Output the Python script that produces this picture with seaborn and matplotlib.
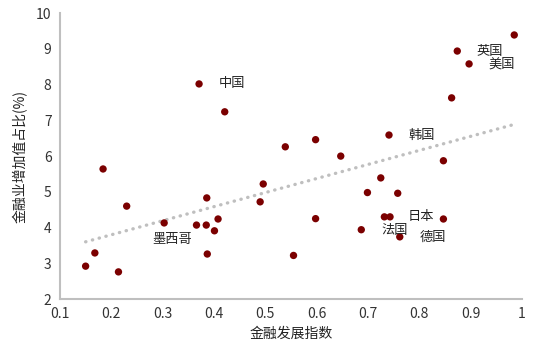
import numpy as np
import pandas as pd
import matplotlib
matplotlib.use("Agg")
import matplotlib.pyplot as plt
import seaborn as sns

# 金融发展指数 与 金融业增加值占比(%)
fin_index = [0.150, 0.168, 0.214, 0.230, 0.303, 0.366, 0.385, 0.386, 0.387, 0.401,
             0.408, 0.490, 0.496, 0.371, 0.421, 0.184, 0.985, 0.874, 0.897, 0.863,
             0.539, 0.598, 0.647, 0.741, 0.847, 0.725, 0.699, 0.758, 0.598, 0.732,
             0.743, 0.847, 0.687, 0.762, 0.555]
fin_share = [2.92, 3.29, 2.76, 4.60, 4.13, 4.07, 4.07, 4.83, 3.26, 3.91,
             4.24, 4.72, 5.22, 8.02, 7.24, 5.64, 9.39, 8.94, 8.58, 7.63,
             6.26, 6.46, 6.00, 6.59, 5.87, 5.39, 4.98, 4.96, 4.25, 4.30,
             4.30, 4.24, 3.94, 3.74, 3.22]

# 标注: 国家, 点序号, 偏移(pt), 对齐
label_names = ["中国", "英国", "美国", "韩国", "墨西哥", "日本", "法国", "德国"]
label_idx = [13, 17, 18, 23, 4, 31, 30, 33]
label_offsets = [(14, 0), (14, 0), (14, 0), (14, 0), (6, -12), (-7, 2), (3, -10), (14, 0)]
label_ha = ["left", "left", "left", "left", "center", "right", "center", "left"]

x_ticks = [0.1, 0.2, 0.3, 0.4, 0.5, 0.6, 0.7, 0.8, 0.9, 1.0]
x_tick_labels = ["0.1", "0.2", "0.3", "0.4", "0.5", "0.6", "0.7", "0.8", "0.9", "1"]
y_ticks = [2, 3, 4, 5, 6, 7, 8, 9, 10]

df = pd.DataFrame({"x": fin_index, "y": fin_share})

sns.set_style("white")
plt.rcParams["font.family"] = ["Noto Sans CJK SC", "DejaVu Sans"]

fig = plt.figure(figsize=(5.5, 3.56), dpi=100)
ax = fig.add_axes([0.109, 0.160, 0.840, 0.803])

# 趋势线
sns.regplot(data=df, x="x", y="y", ax=ax, ci=None, scatter=False,
            line_kws=dict(color="#BFBFBF", lw=2.4, linestyle=(0, (0.1, 2.0)),
                          dash_capstyle="round"))
sns.scatterplot(data=df, x="x", y="y", ax=ax, color="#7B0000", s=28,
                edgecolor="none", zorder=3)

for name, i, off, ha in zip(label_names, label_idx, label_offsets, label_ha):
    ax.annotate(name, (fin_index[i], fin_share[i]), xytext=off,
                textcoords="offset points", ha=ha, va="center",
                fontsize=9.5, color="#222222")

ax.set_xlim(0.1, 1.0)
ax.set_ylim(2, 10)
ax.set_xticks(x_ticks)
ax.set_xticklabels(x_tick_labels)
ax.set_yticks(y_ticks)
ax.tick_params(axis="both", length=0, labelsize=10, colors="#333333", pad=6)

ax.set_xlabel("金融发展指数", fontsize=10, color="#222222", labelpad=4)
ax.set_ylabel("金融业增加值占比(%)", fontsize=10, color="#222222", labelpad=6)

for s in ["top", "right"]:
    ax.spines[s].set_visible(False)
for s in ["left", "bottom"]:
    ax.spines[s].set_color("#BFBFBF")
    ax.spines[s].set_linewidth(1.5)

fig.savefig("out.png", dpi=100)
